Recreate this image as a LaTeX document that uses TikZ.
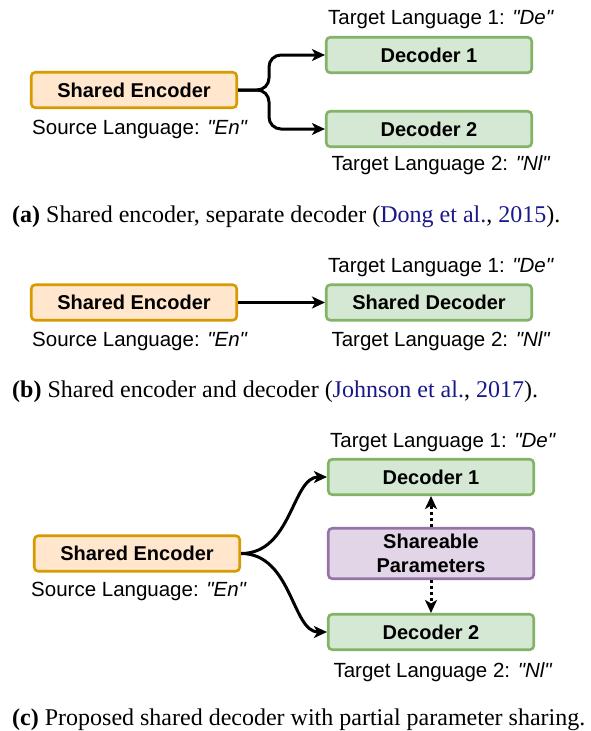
\documentclass[tikz,border=0pt]{standalone}
\usepackage{fontspec}
\setmainfont{Liberation Sans}[Ligatures=TeXOff]
\newfontfamily\capfont{Liberation Serif}
\usetikzlibrary{arrows.meta}
\definecolor{encfill}{HTML}{FFE6CC}
\definecolor{encdraw}{HTML}{D79B00}
\definecolor{decfill}{HTML}{D5E8D4}
\definecolor{decdraw}{HTML}{82B366}
\definecolor{parfill}{HTML}{E1D5E7}
\definecolor{pardraw}{HTML}{9673A6}
\definecolor{citeblue}{rgb}{0.1,0.1,0.55}
\begin{document}
\begin{tikzpicture}[x=1pt,y=-1pt,
  boxbase/.style={draw, rounded corners=4pt, line width=2.6pt, minimum height=35.5pt,
    minimum width=205.5pt, inner sep=0pt, align=center,
    font=\bfseries\fontsize{20}{23.5}\selectfont},
  encbox/.style={boxbase, fill=encfill, draw=encdraw},
  decbox/.style={boxbase, fill=decfill, draw=decdraw},
  parbox/.style={boxbase, fill=parfill, draw=pardraw, minimum height=50.5pt},
  lbl/.style={anchor=base, inner sep=0pt, font=\fontsize{20.5}{24}\selectfont},
  captxt/.style={anchor=base west, inner sep=0pt, font=\capfont\fontsize{24}{28}\selectfont},
  arr/.style={line width=3pt, -{Stealth[length=13pt,width=12pt,inset=3.5pt]}},
  dotarr/.style={line width=3pt, dash pattern=on 3pt off 3pt, -{Stealth[length=13pt,width=12pt,inset=3.5pt]}}
]
\useasboundingbox (0,0) rectangle (590,731);

% ---------- (a) ----------
\node[encbox] (enca) at (134,90) {Shared Encoder};
\node[decbox] (dec1a) at (429,55) {Decoder 1};
\node[decbox] (dec2a) at (429,129) {Decoder 2};
\node[lbl] (t1a) at (441,24.5) {Target Language 1: \textit{"De"}};
\node[lbl] (srca) at (140,134) {Source Language: \textit{"En"}};
\node[lbl] (t2a) at (441,170) {Target Language 2: \textit{"Nl"}};
\coordinate (ja) at (269,90);
\draw[arr, rounded corners=12pt] (enca.east) -- (ja) |- (dec1a.west);
\draw[arr, rounded corners=12pt] (enca.east) -- (ja) |- (dec2a.west);
\node[captxt] (capa) at (12,222) {\textbf{(a)} Shared encoder, separate decoder ({\color{citeblue}Dong et al.}, {\color{citeblue}2015}).};

% ---------- (b) ----------
\node[encbox] (encb) at (134,302.5) {Shared Encoder};
\node[decbox] (decb) at (429,302.5) {Shared Decoder};
\node[lbl] (t1b) at (441,272) {Target Language 1: \textit{"De"}};
\node[lbl] (srcb) at (140,346) {Source Language: \textit{"En"}};
\node[lbl] (t2b) at (441,346) {Target Language 2: \textit{"Nl"}};
\draw[arr] (encb.east) -- (decb.west);
\node[captxt] (capb) at (12,397) {\textbf{(b)} Shared encoder and decoder ({\color{citeblue}Johnson et al.}, {\color{citeblue}2017}).};

% ---------- (c) ----------
\node[encbox] (encc) at (137,553.5) {Shared Encoder};
\node[decbox] (dec1c) at (431,477) {Decoder 1};
\node[parbox] (parc) at (431,553.5) {Shareable\\Parameters};
\node[decbox] (dec2c) at (431,632) {Decoder 2};
\node[lbl] (t1c) at (443,447) {Target Language 1: \textit{"De"}};
\node[lbl] (srcc) at (139,596) {Source Language: \textit{"En"}};
\node[lbl] (t2c) at (443,677) {Target Language 2: \textit{"Nl"}};
\draw[arr] (encc.east) .. controls (292,553.5) and (292,477) .. (dec1c.west);
\draw[arr] (encc.east) .. controls (292,553.5) and (292,632) .. (dec2c.west);
\draw[dotarr] (parc.north) -- (dec1c.south);
\draw[dotarr] (parc.south) -- (dec2c.north);
\node[captxt] (capc) at (12,725) {\textbf{(c)} Proposed shared decoder with partial parameter sharing.};
\end{tikzpicture}
\end{document}
